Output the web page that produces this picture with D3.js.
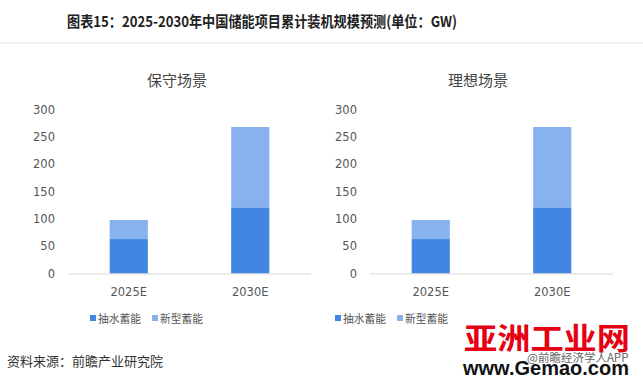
<!DOCTYPE html>
<html lang="zh">
<head>
<meta charset="utf-8">
<title>储能项目累计装机规模预测</title>
<script src="https://d3js.org/d3.v7.min.js"></script>
<style>
  body { margin: 0; background: #fff; }
  svg { display: block; font-family: "Noto Sans CJK SC", "Microsoft YaHei", sans-serif; }
</style>
</head>
<body>
<div id="main"></div>
<script>
// data
var years = ["2025E", "2030E"];
var pumped = [63, 121];      // 抽水蓄能
var newType = [35, 147];     // 新型蓄能
var seriesNames = ["抽水蓄能", "新型蓄能"];
var panels = ["保守场景", "理想场景"];
var yTicks = [0, 50, 100, 150, 200, 250, 300];

var width = 643, height = 382;
var colors = ["#4186E2", "#87B2EE"];

var svg = d3.select("#main").append("svg")
  .attr("width", width)
  .attr("height", height);

// header
svg.append("text")
  .attr("x", 262).attr("y", 27)
  .attr("text-anchor", "middle")
  .attr("font-size", 15).attr("font-weight", "bold")
  .attr("fill", "#222")
  .attr("textLength", 390).attr("lengthAdjust", "spacingAndGlyphs")
  .text("图表15：2025-2030年中国储能项目累计装机规模预测(单位：GW)");

svg.append("rect")
  .attr("x", 0).attr("y", 42).attr("width", width).attr("height", 2)
  .attr("fill", "#f2f2f2");

var stackData = years.map(function(y, i) {
  return { year: y, pumped: pumped[i], newType: newType[i] };
});
var stack = d3.stack().keys(["pumped", "newType"]);
var series = stack(stackData);

function drawPanel(title, x0, x1, labelRight, titleX, legendX) {
  var g = svg.append("g");

  var x = d3.scaleBand().domain(years).range([x0, x1]).paddingInner(0.686).paddingOuter(0.343);
  var y = d3.scaleLinear().domain([0, 300]).range([273.5, 109.5]);

  g.append("text")
    .attr("x", titleX).attr("y", 86)
    .attr("text-anchor", "middle")
    .attr("font-size", 15).attr("fill", "#444")
    .text(title);

  g.selectAll(".ytick").data(yTicks).enter().append("text")
    .attr("x", labelRight)
    .attr("y", function(d) { return y(d) + 4; })
    .attr("text-anchor", "end")
    .attr("font-size", 11.5).attr("fill", "#555")
    .attr("font-family", "DejaVu Sans, sans-serif")
    .text(function(d) { return d; });

  g.selectAll(".layer").data(series).enter().append("g")
    .attr("fill", function(d, i) { return colors[i]; })
    .selectAll("rect").data(function(d) { return d; }).enter().append("rect")
    .attr("x", function(d) { return x(d.data.year); })
    .attr("width", x.bandwidth())
    .attr("y", function(d) { return y(d[1]); })
    .attr("height", function(d) { return y(d[0]) - y(d[1]); });

  g.append("line")
    .attr("x1", x0).attr("x2", x1)
    .attr("y1", y(0) + 0.5).attr("y2", y(0) + 0.5)
    .attr("stroke", "#d9d9d9");

  g.selectAll(".xtick").data(years).enter().append("text")
    .attr("x", function(d) { return x(d) + x.bandwidth() / 2; })
    .attr("y", 296)
    .attr("text-anchor", "middle")
    .attr("font-size", 11.5).attr("fill", "#555")
    .attr("font-family", "DejaVu Sans, sans-serif")
    .text(function(d) { return d; });

  var lg = g.selectAll(".legend").data(seriesNames).enter().append("g")
    .attr("transform", function(d, i) { return "translate(" + (legendX + i * 62) + ",315)"; });
  lg.append("rect").attr("width", 6).attr("height", 6)
    .attr("fill", function(d, i) { return colors[i]; });
  lg.append("text").attr("x", 8).attr("y", 8)
    .attr("font-size", 11).attr("fill", "#555")
    .attr("textLength", 43).attr("lengthAdjust", "spacingAndGlyphs")
    .text(function(d) { return d; });
}

drawPanel(panels[0], 68, 311, 55, 177, 90);
drawPanel(panels[1], 370, 613, 357, 478, 335);

// footer
svg.append("text")
  .attr("x", 7).attr("y", 366)
  .attr("font-size", 13).attr("fill", "#333")
  .text("资料来源：前瞻产业研究院");

svg.append("text")
  .attr("x", 547).attr("y", 349)
  .attr("text-anchor", "middle")
  .attr("font-size", 30).attr("font-weight", "bold")
  .attr("fill", "#e60012")
  .attr("textLength", 166).attr("lengthAdjust", "spacingAndGlyphs")
  .text("亚洲工业网");

svg.append("text")
  .attr("x", 527).attr("y", 362)
  .attr("font-size", 11.5).attr("fill", "#666")
  .text("@前瞻经济学人APP");

svg.append("text")
  .attr("x", 546).attr("y", 375)
  .attr("text-anchor", "middle")
  .attr("font-size", 21).attr("font-weight", "bold")
  .attr("fill", "#111")
  .attr("font-family", "Liberation Sans, Arial, sans-serif")
  .attr("textLength", 166).attr("lengthAdjust", "spacingAndGlyphs")
  .text("www.Gemao.com");
</script>
</body>
</html>
